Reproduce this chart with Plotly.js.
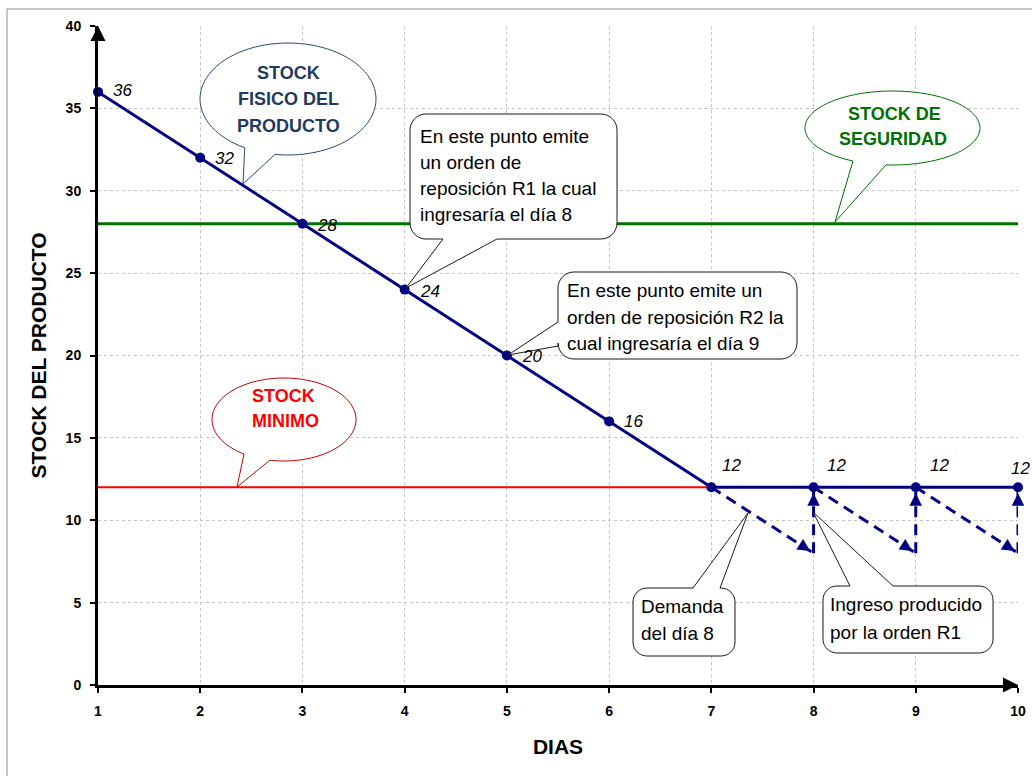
<!DOCTYPE html>
<html><head><meta charset="utf-8">
<script src="https://cdn.plot.ly/plotly-3.0.1.min.js"></script>
<style>html,body{margin:0;padding:0;background:#fff;}#chart{width:1032px;height:776px;}</style>
</head><body><div id="chart"></div>
<script>
// ---------- DATA ----------
const days = [1, 2, 3, 4, 5, 6, 7, 8, 9, 10];
const stock = [36, 32, 28, 24, 20, 16, 12, 12, 12, 12];
const safetyStock = [28, 28, 28, 28, 28, 28, 28, 28, 28, 28];
const minDays = [1, 2, 3, 4, 5, 6, 7];
const minStock = [12, 12, 12, 12, 12, 12, 12];
const demandFrom = [7, 8, 9];
const demandTo = [8, 9, 10];
const demandQty = [4, 4, 4];
const reorderLevel = 12;
const xTicks = [1, 2, 3, 4, 5, 6, 7, 8, 9, 10];
const yTicks = [0, 5, 10, 15, 20, 25, 30, 35, 40];
const xTitle = 'DIAS';
const yTitle = 'STOCK DEL PRODUCTO';

// ---------- STYLE / LAYOUT GEOMETRY ----------
const FONT = '"Liberation Sans", Arial, sans-serif';
const NAVY = '#000080', GREEN = '#007000', RED = '#FF0000';
const W = 1032, H = 776, M = {l: 98, r: 14, t: 26, b: 91};
const XR = [1, 10], YR = [0, 40];
const pw = W - M.l - M.r, ph = H - M.t - M.b;
const px2x = px => XR[0] + (px - M.l) / pw * (XR[1] - XR[0]);
const py2y = py => YR[0] + (H - M.b - py) / ph * (YR[1] - YR[0]);
const ptsToPath = pts => 'M ' + pts.map(p => px2x(p[0]).toFixed(4) + ',' + py2y(p[1]).toFixed(4)).join(' L ') + ' Z';

function ellipseCallout(cx, cy, rx, ry, b1, b2, tip) {
  const ang = b => Math.atan2((b[1] - cy) / ry, (b[0] - cx) / rx);
  const a1 = ang(b1), a2 = ang(b2), TWO = 2 * Math.PI;
  const d = ((a2 - a1) % TWO + TWO) % TWO;
  let s, e;
  if (d > Math.PI) { s = a1; e = a1 + d; } else { s = a2; e = a2 + (TWO - d); }
  const pts = [];
  const N = 90;
  for (let i = 0; i <= N; i++) { const a = s + (e - s) * i / N; pts.push([cx + rx * Math.cos(a), cy + ry * Math.sin(a)]); }
  pts.push(tip);
  return ptsToPath(pts);
}
function rectCallout(L, T, R, B, r, side, p1, p2, tip) {
  const pts = [];
  const arc = (cx, cy, a0, a1) => { for (let i = 0; i <= 8; i++) { const a = (a0 + (a1 - a0) * i / 8) * Math.PI / 180; pts.push([cx + r * Math.cos(a), cy + r * Math.sin(a)]); } };
  arc(L + r, T + r, 180, 270);
  if (side === 'top') pts.push([p1, T], tip, [p2, T]);
  arc(R - r, T + r, 270, 360);
  if (side === 'right') pts.push([R, p1], tip, [R, p2]);
  arc(R - r, B - r, 0, 90);
  if (side === 'bottom') pts.push([p2, B], tip, [p1, B]);
  arc(L + r, B - r, 90, 180);
  if (side === 'left') pts.push([L, p2], tip, [L, p1]);
  return ptsToPath(pts);
}
const shp = (path, color, w) => ({type: 'path', xref: 'x', yref: 'y', path: path, fillcolor: '#ffffff', line: {color: color, width: w || 1}, layer: 'above'});

const shapes = [
  // outer frame
  {type: 'rect', xref: 'paper', yref: 'paper', x0: (7 - M.l) / pw, x1: (1045 - M.l) / pw, y0: (H - M.b - 800) / ph, y1: (H - M.b - 9) / ph,
   line: {color: '#8c8c8c', width: 1}, fillcolor: 'rgba(0,0,0,0)', layer: 'below'},
  shp(ellipseCallout(288, 99, 88, 56, [245, 147.5], [275, 154.5], [243, 184]), '#2B4B70'),
  shp(ellipseCallout(892.5, 128, 87.5, 37, [853, 161], [886, 165], [835, 222]), GREEN),
  shp(ellipseCallout(284, 419.5, 72, 41.5, [244, 454], [270, 460], [237, 487]), '#C00000'),
  shp(rectCallout(410, 114, 617, 239, 16, 'bottom', 443, 497, [406, 288]), '#1a1a1a'),
  shp(rectCallout(558, 272, 797, 359, 16, 'left', 322, 346, [508, 355]), '#1a1a1a'),
  shp(rectCallout(633, 588, 735, 656, 14, 'top', 693, 720, [748, 513]), '#1a1a1a'),
  shp(rectCallout(823, 586, 993, 653, 14, 'top', 850, 893, [813, 512]), '#1a1a1a')
];

const annotations = [];
function textLines(lines, xPx, yPx, anchor, font) {
  lines.forEach((t, i) => annotations.push({text: t, x: px2x(xPx[i] !== undefined ? xPx[i] : xPx[0]), y: py2y(yPx[i]), xref: 'x', yref: 'y',
    xanchor: anchor, yanchor: 'middle', showarrow: false, font: font}));
}
const boldF = c => ({family: FONT, size: 18, color: c, weight: 'bold'});
const bodyF = {family: FONT, size: 19, color: '#000000'};
textLines(['STOCK', 'FISICO DEL', 'PRODUCTO'], [288], [73, 99, 126], 'center', boldF('#1F3A60'));
textLines(['STOCK DE', 'SEGURIDAD'], [894, 893], [114, 139], 'center', boldF(GREEN));
textLines(['STOCK', 'MINIMO'], [283, 285], [396, 421], 'center', boldF(RED));
textLines(['En este punto emite', 'un orden de', 'reposición R1 la cual', 'ingresaría el día 8'], [418], [136, 162, 188, 214], 'left', bodyF);
textLines(['En este punto emite un', 'orden de reposición R2 la', 'cual ingresaría el día 9'], [565], [290, 317, 343], 'left', bodyF);
textLines(['Demanda', 'del día 8'], [639], [606, 633], 'left', bodyF);
textLines(['Ingreso producido', 'por la orden R1'], [828], [604, 632], 'left', bodyF);

// data labels (offsets are style only)
const labDx = [13, 13, 13, 13, 13, 13, 9, 11, 12, -9];
const labDy = [1, -1, -2, -2, -1, 0, 22, 22, 22, 19];
days.forEach((d, i) => annotations.push({text: String(stock[i]), x: d, y: stock[i], xref: 'x', yref: 'y', xanchor: 'left', yanchor: 'middle',
  xshift: labDx[i], yshift: labDy[i], showarrow: false, font: {family: FONT, size: 17, style: 'italic', color: '#000'}}));

// arrowheads for demand (diagonal) and replenishment (vertical)
const ux = pw / (XR[1] - XR[0]), uy = ph / (YR[1] - YR[0]);
demandFrom.forEach((f, i) => {
  const dx = (demandTo[i] - f) * ux, dy = demandQty[i] * uy, n = Math.hypot(dx, dy);
  annotations.push({x: demandTo[i], y: reorderLevel - demandQty[i], xref: 'x', yref: 'y', ax: -dx / n * 12, ay: -dy / n * 12,
    showarrow: true, arrowhead: 2, arrowsize: 1, arrowwidth: 2.5, arrowcolor: NAVY, standoff: 4, text: ''});
  annotations.push({x: demandTo[i], y: reorderLevel, xref: 'x', yref: 'y', ax: 0, ay: 14,
    showarrow: true, arrowhead: 2, arrowsize: 1, arrowwidth: 2.5, arrowcolor: NAVY, standoff: 6, text: ''});
});
// axis arrowheads
annotations.push({x: XR[0], y: YR[1], xref: 'x', yref: 'y', ax: 0, ay: 14, showarrow: true, arrowhead: 2, arrowsize: 1, arrowwidth: 3, arrowcolor: '#000', text: ''});
annotations.push({x: XR[1], y: YR[0], xref: 'x', yref: 'y', ax: -14, ay: 0, showarrow: true, arrowhead: 2, arrowsize: 1, arrowwidth: 3, arrowcolor: '#000', text: ''});

// ---------- TRACES ----------
const dashX = [], dashY = [];
demandFrom.forEach((f, i) => {
  dashX.push(f, demandTo[i], null, demandTo[i], demandTo[i], null);
  dashY.push(reorderLevel, reorderLevel - demandQty[i], null, reorderLevel - demandQty[i], reorderLevel, null);
});
const traces = [
  {x: days, y: safetyStock, mode: 'lines', line: {color: GREEN, width: 3}, hoverinfo: 'skip', cliponaxis: false},
  {x: minDays, y: minStock, mode: 'lines', line: {color: RED, width: 2}, hoverinfo: 'skip'},
  {x: dashX, y: dashY, mode: 'lines', line: {color: NAVY, width: 3, dash: '11px,7px'}, connectgaps: false, hoverinfo: 'skip'},
  {x: days, y: stock, mode: 'lines+markers', line: {color: NAVY, width: 3}, marker: {color: NAVY, size: 10}, cliponaxis: false, hoverinfo: 'skip'}
];

const axisCommon = {
  showline: true, linewidth: 3, linecolor: '#000', ticks: 'outside', ticklen: 5, tickwidth: 2, tickcolor: '#000',
  showgrid: true, gridcolor: '#c4c4c4', gridwidth: 1, griddash: 'dot', zeroline: false, fixedrange: true,
  tickfont: {family: FONT, size: 14, color: '#000', weight: 'bold'}
};
const layout = {
  width: W, height: H, margin: M, paper_bgcolor: '#fff', plot_bgcolor: '#fff', showlegend: false,
  xaxis: Object.assign({}, axisCommon, {range: XR, tickvals: xTicks, ticklabelstandoff: 6,
    title: {text: xTitle, font: {family: FONT, size: 21, color: '#000', weight: 'bold'}, standoff: 22}}),
  yaxis: Object.assign({}, axisCommon, {range: YR, tickvals: yTicks, ticklabelstandoff: 6,
    title: {text: yTitle, font: {family: FONT, size: 21, color: '#000', weight: 'bold'}, standoff: 14}}),
  shapes: shapes, annotations: annotations
};
Plotly.newPlot('chart', traces, layout, {displayModeBar: false, staticPlot: true});
</script></body></html>
